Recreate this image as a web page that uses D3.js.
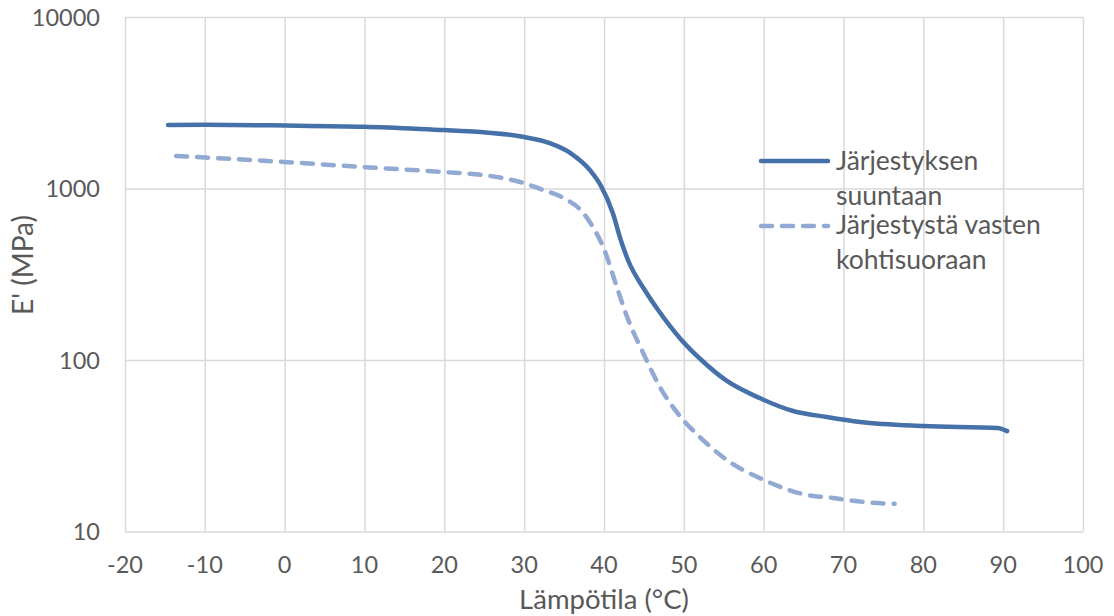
<!DOCTYPE html>
<html>
<head>
<meta charset="utf-8">
<script src="https://cdn.jsdelivr.net/npm/d3@7"></script>
<style>
  html, body { margin: 0; padding: 0; background: #ffffff; }
  svg { display: block; }
  text { font-family: Lato, "Open Sans", sans-serif; fill: #595959; }
</style>
</head>
<body>
<svg id="chart" width="1114" height="616"></svg>
<script>
// Storage modulus E' against temperature, two orientations
const seriesNames = ["Järjestyksen suuntaan", "Järjestystä vasten kohtisuoraan"];

const tempAlong = [-14.6, -10, 0, 10, 20, 23, 30, 33.2, 35.8, 38.3, 39.6, 41.1, 42.1, 43.0,
  45.1, 46.8, 49.7, 52.2, 55.3, 59.5, 63.7, 67.9, 72.1, 80, 89.3, 90.5];
const modAlong = [2344, 2350, 2330, 2290, 2190, 2160, 1995, 1840, 1610, 1270, 1040, 720, 501, 383,
  256, 195, 131, 100, 76, 60, 50.4, 46.5, 43.5, 41.2, 40.1, 38.5];

const tempAcross = [-13.6, 0, 9.8, 19.8, 24.8, 29.9, 32.4, 34.9, 37.4, 38.6, 39.9, 41.6, 42.9,
  44.9, 47.0, 49.2, 52.0, 55.4, 60, 65.5, 68.7, 71.2, 73.7, 76.4];
const modAcross = [1548, 1428, 1334, 1248, 1199, 1077, 980, 881, 720, 597, 456, 267, 178,
  110, 69.6, 49.1, 35.6, 26.1, 20, 16.3, 15.7, 15.1, 14.7, 14.5];

const xTicks = [-20, -10, 0, 10, 20, 30, 40, 50, 60, 70, 80, 90, 100];
const yTicks = [10, 100, 1000, 10000];
const xTitle = "Lämpötila (°C)";
const yTitle = "E' (MPa)";

const svg = d3.select("#chart");
const plot = { left: 125, right: 1083, top: 17, bottom: 531.5 };

const x = d3.scaleLinear().domain([-20, 100]).range([plot.left, plot.right]);
const y = d3.scaleLog().domain([10, 10000]).range([plot.bottom, plot.top]);

const gridColor = "#d9d9d9";

// gridlines
svg.append("g")
  .attr("transform", `translate(0,${plot.bottom})`)
  .call(d3.axisBottom(x).tickValues(xTicks).tickSize(-(plot.bottom - plot.top)).tickFormat(""))
  .call(g => g.select(".domain").remove())
  .call(g => g.selectAll("line").attr("stroke", gridColor).attr("stroke-width", 1.5));

svg.append("g")
  .attr("transform", `translate(${plot.left},0)`)
  .call(d3.axisLeft(y).tickValues(yTicks).tickSize(-(plot.right - plot.left)).tickFormat(""))
  .call(g => g.select(".domain").remove())
  .call(g => g.selectAll("line").attr("stroke", gridColor).attr("stroke-width", 1.5));

// tick labels
svg.append("g").selectAll("text")
  .data(xTicks).join("text")
  .attr("x", d => x(d)).attr("y", 573)
  .attr("text-anchor", "middle")
  .style("font-size", "23.5px")
  .text(d => d);

svg.append("g").selectAll("text")
  .data(yTicks).join("text")
  .attr("x", 100).attr("y", d => y(d) + 8.5)
  .attr("text-anchor", "end")
  .style("font-size", "23.5px")
  .text(d => d);

// axis titles
svg.append("text")
  .attr("x", (plot.left + plot.right) / 2).attr("y", 609)
  .attr("text-anchor", "middle")
  .style("font-size", "27.5px")
  .text(xTitle);

svg.append("text")
  .attr("transform", "translate(33,265) rotate(-90)")
  .attr("text-anchor", "middle")
  .style("font-size", "28px")
  .text(yTitle);

// curves
const line = d3.line()
  .x(d => x(d[0]))
  .y(d => y(d[1]))
  .curve(d3.curveMonotoneX);

const solidColor = "#4670a8";
const dashColor = "#92a9d4";

svg.append("path")
  .datum(d3.zip(tempAcross, modAcross))
  .attr("fill", "none")
  .attr("stroke", dashColor)
  .attr("stroke-width", 4.5)
  .attr("stroke-linecap", "round")
  .attr("stroke-dasharray", "11,10")
  .attr("d", line);

svg.append("path")
  .datum(d3.zip(tempAlong, modAlong))
  .attr("fill", "none")
  .attr("stroke", solidColor)
  .attr("stroke-width", 4.5)
  .attr("stroke-linecap", "round")
  .attr("stroke-linejoin", "round")
  .attr("d", line);

// legend
const legend = svg.append("g");
const legendItems = [
  { lineY: 161, color: solidColor, dash: null, lines: ["Järjestyksen", "suuntaan"], baselines: [170, 205] },
  { lineY: 226, color: dashColor, dash: "11,10", lines: ["Järjestystä vasten", "kohtisuoraan"], baselines: [234, 269] }
];
legendItems.forEach(item => {
  legend.append("line")
    .attr("x1", 761).attr("x2", 828)
    .attr("y1", item.lineY).attr("y2", item.lineY)
    .attr("stroke", item.color)
    .attr("stroke-width", 4.5)
    .attr("stroke-linecap", "round")
    .attr("stroke-dasharray", item.dash);
  item.lines.forEach((t, i) => {
    legend.append("text")
      .attr("x", 836).attr("y", item.baselines[i])
      .style("font-size", "26.5px")
      .text(t);
  });
});
</script>
</body>
</html>
